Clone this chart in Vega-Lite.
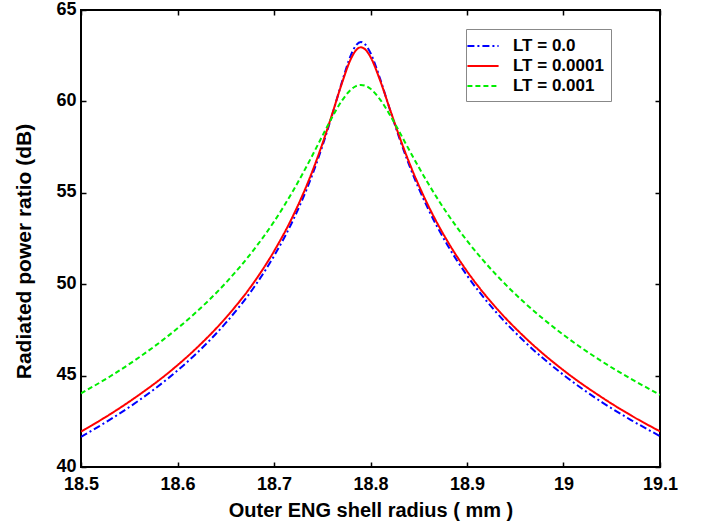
{
  "$schema": "https://vega.github.io/schema/vega-lite/v6.json",
  "width": 579,
  "height": 457,
  "autosize": "none",
  "padding": {"left": 81, "top": 10, "right": 51, "bottom": 62},
  "background": "white",
  "config": {
    "view": {"stroke": "black", "strokeWidth": 2},
    "font": "Liberation Sans",
    "axis": {
      "grid": false,
      "domain": false,
      "tickColor": "black",
      "tickWidth": 1.5,
      "tickSize": -5,
      "labelFlush": false,
      "labelFont": "Liberation Sans",
      "labelFontWeight": "bold",
      "labelFontSize": 18,
      "labelColor": "black",
      "titleFont": "Liberation Sans",
      "titleFontWeight": "bold",
      "titleFontSize": 20,
      "titleColor": "black"
    }
  },
  "data": {"values": [
    {"x":18.50,"y":41.65,"s":"LT = 0.0"},{"x":18.53,"y":42.59,"s":"LT = 0.0"},{"x":18.56,"y":43.64,"s":"LT = 0.0"},{"x":18.59,"y":44.84,"s":"LT = 0.0"},{"x":18.62,"y":46.23,"s":"LT = 0.0"},{"x":18.65,"y":47.88,"s":"LT = 0.0"},{"x":18.68,"y":49.89,"s":"LT = 0.0"},{"x":18.70,"y":51.54,"s":"LT = 0.0"},{"x":18.72,"y":53.53,"s":"LT = 0.0"},{"x":18.74,"y":56.03,"s":"LT = 0.0"},{"x":18.75,"y":57.53,"s":"LT = 0.0"},{"x":18.76,"y":59.21,"s":"LT = 0.0"},{"x":18.77,"y":60.99,"s":"LT = 0.0"},{"x":18.78,"y":62.57,"s":"LT = 0.0"},{"x":18.785,"y":63.07,"s":"LT = 0.0"},{"x":18.79,"y":63.25,"s":"LT = 0.0"},{"x":18.795,"y":63.09,"s":"LT = 0.0"},{"x":18.80,"y":62.65,"s":"LT = 0.0"},{"x":18.81,"y":61.23,"s":"LT = 0.0"},{"x":18.82,"y":59.57,"s":"LT = 0.0"},{"x":18.83,"y":57.98,"s":"LT = 0.0"},{"x":18.84,"y":56.53,"s":"LT = 0.0"},{"x":18.86,"y":54.09,"s":"LT = 0.0"},{"x":18.88,"y":52.12,"s":"LT = 0.0"},{"x":18.90,"y":50.48,"s":"LT = 0.0"},{"x":18.93,"y":48.48,"s":"LT = 0.0"},{"x":18.96,"y":46.84,"s":"LT = 0.0"},{"x":19.00,"y":45.04,"s":"LT = 0.0"},{"x":19.04,"y":43.54,"s":"LT = 0.0"},{"x":19.07,"y":42.57,"s":"LT = 0.0"},{"x":19.10,"y":41.69,"s":"LT = 0.0"},
    {"x":18.50,"y":41.94,"s":"LT = 0.0001"},{"x":18.53,"y":42.88,"s":"LT = 0.0001"},{"x":18.56,"y":43.94,"s":"LT = 0.0001"},{"x":18.59,"y":45.13,"s":"LT = 0.0001"},{"x":18.62,"y":46.52,"s":"LT = 0.0001"},{"x":18.65,"y":48.16,"s":"LT = 0.0001"},{"x":18.68,"y":50.16,"s":"LT = 0.0001"},{"x":18.70,"y":51.80,"s":"LT = 0.0001"},{"x":18.72,"y":53.77,"s":"LT = 0.0001"},{"x":18.74,"y":56.21,"s":"LT = 0.0001"},{"x":18.75,"y":57.66,"s":"LT = 0.0001"},{"x":18.76,"y":59.26,"s":"LT = 0.0001"},{"x":18.77,"y":60.93,"s":"LT = 0.0001"},{"x":18.78,"y":62.36,"s":"LT = 0.0001"},{"x":18.785,"y":62.80,"s":"LT = 0.0001"},{"x":18.79,"y":62.96,"s":"LT = 0.0001"},{"x":18.795,"y":62.82,"s":"LT = 0.0001"},{"x":18.80,"y":62.43,"s":"LT = 0.0001"},{"x":18.81,"y":61.14,"s":"LT = 0.0001"},{"x":18.82,"y":59.59,"s":"LT = 0.0001"},{"x":18.83,"y":58.07,"s":"LT = 0.0001"},{"x":18.84,"y":56.67,"s":"LT = 0.0001"},{"x":18.86,"y":54.28,"s":"LT = 0.0001"},{"x":18.88,"y":52.33,"s":"LT = 0.0001"},{"x":18.90,"y":50.71,"s":"LT = 0.0001"},{"x":18.93,"y":48.72,"s":"LT = 0.0001"},{"x":18.96,"y":47.09,"s":"LT = 0.0001"},{"x":19.00,"y":45.29,"s":"LT = 0.0001"},{"x":19.04,"y":43.80,"s":"LT = 0.0001"},{"x":19.07,"y":42.82,"s":"LT = 0.0001"},{"x":19.10,"y":41.95,"s":"LT = 0.0001"},
    {"x":18.50,"y":44.03,"s":"LT = 0.001"},{"x":18.53,"y":44.95,"s":"LT = 0.001"},{"x":18.56,"y":45.99,"s":"LT = 0.001"},{"x":18.59,"y":47.16,"s":"LT = 0.001"},{"x":18.62,"y":48.50,"s":"LT = 0.001"},{"x":18.65,"y":50.07,"s":"LT = 0.001"},{"x":18.68,"y":51.95,"s":"LT = 0.001"},{"x":18.70,"y":53.42,"s":"LT = 0.001"},{"x":18.72,"y":55.13,"s":"LT = 0.001"},{"x":18.74,"y":57.07,"s":"LT = 0.001"},{"x":18.75,"y":58.10,"s":"LT = 0.001"},{"x":18.76,"y":59.11,"s":"LT = 0.001"},{"x":18.77,"y":60.01,"s":"LT = 0.001"},{"x":18.78,"y":60.66,"s":"LT = 0.001"},{"x":18.785,"y":60.84,"s":"LT = 0.001"},{"x":18.79,"y":60.90,"s":"LT = 0.001"},{"x":18.795,"y":60.85,"s":"LT = 0.001"},{"x":18.80,"y":60.69,"s":"LT = 0.001"},{"x":18.81,"y":60.10,"s":"LT = 0.001"},{"x":18.82,"y":59.27,"s":"LT = 0.001"},{"x":18.83,"y":58.33,"s":"LT = 0.001"},{"x":18.84,"y":57.35,"s":"LT = 0.001"},{"x":18.86,"y":55.49,"s":"LT = 0.001"},{"x":18.88,"y":53.83,"s":"LT = 0.001"},{"x":18.90,"y":52.38,"s":"LT = 0.001"},{"x":18.93,"y":50.53,"s":"LT = 0.001"},{"x":18.96,"y":48.97,"s":"LT = 0.001"},{"x":19.00,"y":47.23,"s":"LT = 0.001"},{"x":19.04,"y":45.77,"s":"LT = 0.001"},{"x":19.07,"y":44.82,"s":"LT = 0.001"},{"x":19.10,"y":43.95,"s":"LT = 0.001"}
  ]},
  "layer": [
    {
      "mark": {"type": "line", "interpolate": "monotone", "strokeWidth": 2, "clip": true},
      "encoding": {
        "x": {"field": "x", "type": "quantitative", "scale": {"domain": [18.5, 19.1], "nice": false, "zero": false},
              "axis": {"orient": "bottom", "values": [18.5, 18.6, 18.7, 18.8, 18.9, 19.0, 19.1], "labelExpr": "datum.value == 19 ? '19' : format(datum.value, '.1f')", "title": "Outer ENG shell radius ( mm )", "labelPadding": 13, "titlePadding": 7}},
        "y": {"field": "y", "type": "quantitative", "scale": {"domain": [40, 65], "nice": false, "zero": false},
              "axis": {"orient": "left", "values": [40, 45, 50, 55, 60, 65], "title": "Radiated power ratio (dB)", "titleFontSize": 21, "titleY": 241, "labelPadding": 10, "labelOffset": -1, "titlePadding": 21}},
        "color": {"field": "s", "type": "nominal",
                  "scale": {"domain": ["LT = 0.0", "LT = 0.0001", "LT = 0.001"], "range": ["#0000ff", "#ff0000", "#00ee00"]},
                  "legend": {"orient": "none", "legendX": 385, "legendY": 19, "title": null,
                             "symbolType": "M -1.8 0 H 1.8", "symbolSize": 300, "symbolStrokeWidth": 2,
                             "labelFont": "Liberation Sans", "labelFontWeight": "bold", "labelFontSize": 17, "labelColor": "black",
                             "strokeColor": "#888888", "fillColor": "white", "padding": 7, "rowPadding": 2, "labelOffset": 20}},
        "strokeDash": {"field": "s", "type": "nominal",
                       "scale": {"domain": ["LT = 0.0", "LT = 0.0001", "LT = 0.001"], "range": [[7, 3, 2, 3], [1, 0], [5, 3]]},
                       "legend": null}
      }
    },
    {
      "mark": {"type": "line", "opacity": 0},
      "encoding": {
        "x": {"field": "x", "type": "quantitative", "axis": {"orient": "top", "values": [18.5, 18.6, 18.7, 18.8, 18.9, 19.0, 19.1], "labels": false, "title": null}},
        "y": {"field": "y", "type": "quantitative", "axis": {"orient": "right", "values": [40, 45, 50, 55, 60, 65], "labels": false, "title": null}},
        "detail": {"field": "s"}
      }
    }
  ],
  "resolve": {"axis": {"x": "independent", "y": "independent"}}
}
